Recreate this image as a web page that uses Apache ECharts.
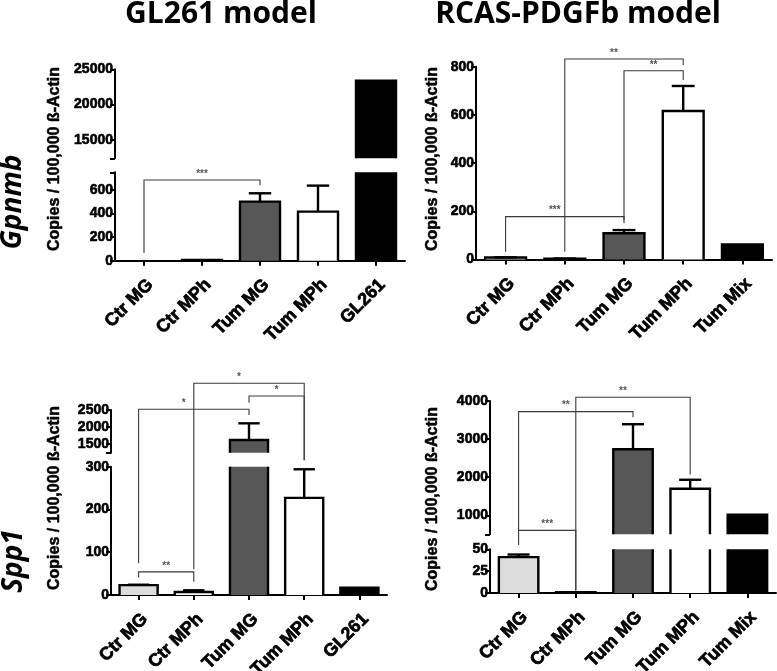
<!DOCTYPE html>
<html><head><meta charset="utf-8">
<script src="https://cdn.jsdelivr.net/npm/echarts@6/dist/echarts.min.js"></script>
<style>html,body{margin:0;padding:0;background:#fff}#c{width:777px;height:671px}</style>
</head><body><div id="c"></div>
<script>
// ---------- data ----------
var catsGL261 = ['Ctr MG', 'Ctr MPh', 'Tum MG', 'Tum MPh', 'GL261'];
var catsRCAS = ['Ctr MG', 'Ctr MPh', 'Tum MG', 'Tum MPh', 'Tum Mix'];

var gl261GpnmbValues = [0, 6, 501, 416, 23400];
var gl261GpnmbErrors = [0, 0, 71, 221, 0];
var rcasGpnmbValues = [8, 3, 109, 616, 62];
var rcasGpnmbErrors = [1, 1, 13, 104, 0];
var gl261Spp1Values = [23, 7, 1620, 227, 17];
var gl261Spp1Errors = [1, 4, 490, 67, 0];
var rcasSpp1Values = [41, 1, 2735, 1696, 1015];
var rcasSpp1Errors = [3, 0, 655, 236, 0];

var gl261GpnmbUpperTicks = [15000, 20000, 25000];
var gl261GpnmbLowerTicks = [0, 200, 400, 600];
var rcasGpnmbTicks = [0, 200, 400, 600, 800];
var gl261Spp1UpperTicks = [1500, 2000, 2500];
var gl261Spp1LowerTicks = [0, 100, 200, 300];
var rcasSpp1UpperTicks = [1000, 2000, 3000, 4000];
var rcasSpp1LowerTicks = [0, 25, 50];

// brackets: [fromCat, toCat, lineValue, lineSeg, leftEndValue, leftEndSeg, rightEndValue, rightEndSeg, label]
var gl261GpnmbBrackets = [[0, 2, 685, 'lower', 65, 'lower', 640, 'lower', '***']];
var rcasGpnmbBrackets = [
  [0, 2, 178, 'lower', 32, 'lower', 150, 'lower', '***'],
  [1, 3, 832, 'lower', 32, 'lower', 807, 'lower', '**'],
  [2, 3, 783, 'lower', 164, 'lower', 745, 'lower', '**']
];
var gl261Spp1Brackets = [
  [0, 1, 54, 'lower', 41, 'lower', 31, 'lower', '**'],
  [0, 2, 2520, 'upper', 74, 'lower', 2353, 'upper', '*'],
  [1, 3, 3285, 'upper', 60, 'lower', 315, 'lower', '*'],
  [2, 3, 2912, 'upper', 2715, 'upper', 315, 'lower', '*']
];
var rcasSpp1Brackets = [
  [0, 1, 604, 'upper', 55, 'lower', 3, 'lower', '***'],
  [0, 2, 3720, 'upper', 604, 'upper', 3573, 'upper', '**'],
  [1, 3, 4097, 'upper', 3, 'lower', 2070, 'upper', '**']
];

var barColors = ['#dcdcdc', '#ffffff', '#575757', '#ffffff', '#000000'];

// ---------- layout ----------
var segments = [
  {key: 'p1', part: 'upper', left: 115, top: 69.3, width: 290, height: 89, min: 12400, max: 25000, labels: gl261GpnmbUpperTicks, cats: catsGL261, values: gl261GpnmbValues, errors: gl261GpnmbErrors, showX: false},
  {key: 'p1', part: 'lower', left: 115, top: 172.3, width: 290, height: 88.4, min: 0, max: 750, labels: gl261GpnmbLowerTicks, cats: catsGL261, values: gl261GpnmbValues, errors: gl261GpnmbErrors, showX: true},
  {key: 'p2', part: 'lower', left: 476, top: 66.7, width: 296, height: 192.8, min: 0, max: 800, labels: rcasGpnmbTicks, cats: catsRCAS, values: rcasGpnmbValues, errors: rcasGpnmbErrors, showX: true},
  {key: 'p3', part: 'upper', left: 111, top: 410, width: 276, height: 42.7, min: 1250, max: 2500, labels: gl261Spp1UpperTicks, cats: catsGL261, values: gl261Spp1Values, errors: gl261Spp1Errors, showX: false},
  {key: 'p3', part: 'lower', left: 111, top: 466.7, width: 276, height: 128.3, min: 0, max: 300, labels: gl261Spp1LowerTicks, cats: catsGL261, values: gl261Spp1Values, errors: gl261Spp1Errors, showX: true},
  {key: 'p4', part: 'upper', left: 490, top: 401, width: 286, height: 133.3, min: 500, max: 4000, labels: rcasSpp1UpperTicks, cats: catsRCAS, values: rcasSpp1Values, errors: rcasSpp1Errors, showX: false},
  {key: 'p4', part: 'lower', left: 490, top: 549.3, width: 286, height: 43.7, min: 0, max: 50, labels: rcasSpp1LowerTicks, cats: catsRCAS, values: rcasSpp1Values, errors: rcasSpp1Errors, showX: true}
];
var panelBrackets = {p1: gl261GpnmbBrackets, p2: rcasGpnmbBrackets, p3: gl261Spp1Brackets, p4: rcasSpp1Brackets};

var LW = 2.4;
var FONT = '"Liberation Sans"';
function makeRenderer(seg) {
  return function (params, api) {
    var i = api.value(0), v = api.value(1), e = api.value(2);
    var lo = seg.min, hi = seg.max;
    var band = api.size([1, 0])[0];
    var bw = band * 0.69;
    var cx = api.coord([i, lo])[0];
    var x0 = cx - bw / 2, x1 = cx + bw / 2;
    var children = [];
    if (v > lo) {
      var yB = api.coord([i, Math.max(lo, 0)])[1];
      var yT = api.coord([i, Math.min(v, hi)])[1];
      children.push({type: 'rect', shape: {x: x0, y: yT, width: bw, height: yB - yT}, style: {fill: barColors[i]}});
      if (v <= hi) {
        children.push({type: 'polyline', shape: {points: [[x0, yB], [x0, yT], [x1, yT], [x1, yB]]}, style: {fill: null, stroke: '#000', lineWidth: LW, lineJoin: 'miter'}});
      } else {
        children.push({type: 'line', shape: {x1: x0, y1: yB, x2: x0, y2: yT}, style: {stroke: '#000', lineWidth: LW}});
        children.push({type: 'line', shape: {x1: x1, y1: yB, x2: x1, y2: yT}, style: {stroke: '#000', lineWidth: LW}});
      }
    }
    if (e > 0) {
      var top = v + e;
      var a = Math.max(v, lo), b = Math.min(top, hi);
      if (b > a) {
        var ya = api.coord([i, a])[1], yb = api.coord([i, b])[1];
        children.push({type: 'line', shape: {x1: cx, y1: ya, x2: cx, y2: yb}, style: {stroke: '#000', lineWidth: LW}});
        if (top <= hi) {
          children.push({type: 'line', shape: {x1: cx - bw * 0.28, y1: yb, x2: cx + bw * 0.28, y2: yb}, style: {stroke: '#000', lineWidth: LW}});
        }
      }
    }
    return {type: 'group', children: children};
  };
}

var grids = [], xAxes = [], yAxes = [], series = [];
segments.forEach(function (s, k) {
  grids.push({left: s.left, top: s.top, width: s.width, height: s.height, containLabel: false, outerBoundsMode: 'none'});
  xAxes.push({
    type: 'category', gridIndex: k, data: s.cats, show: s.showX,
    axisLine: {show: true, lineStyle: {color: '#000', width: 2}},
    axisTick: {show: true, alignWithLabel: true, length: 5, lineStyle: {color: '#000', width: 2}},
    axisLabel: {rotate: 45, interval: 0, margin: 15, align: 'right', verticalAlign: 'top',
      color: '#000', fontSize: 18, fontWeight: 'bold', fontFamily: FONT,
      textBorderColor: '#000', textBorderWidth: 0.7}
  });
  var tickVals = s.labels.slice();
  if (tickVals.indexOf(s.min) < 0) tickVals.unshift(s.min);
  if (tickVals.indexOf(s.max) < 0) tickVals.push(s.max);
  yAxes.push({
    type: 'value', gridIndex: k, min: s.min, max: s.max,
    splitLine: {show: false},
    axisLine: {show: true, lineStyle: {color: '#000', width: 2}},
    axisTick: {show: true, length: 5, customValues: tickVals, lineStyle: {color: '#000', width: 2}},
    axisLabel: {customValues: s.labels, margin: 2, color: '#000', fontSize: 14, fontWeight: 'bold', fontFamily: FONT,
      textBorderColor: '#000', textBorderWidth: 0.6,
      formatter: function (v) { return String(v); }}
  });
  series.push({
    type: 'custom', xAxisIndex: k, yAxisIndex: k, renderItem: makeRenderer(s),
    data: s.values.map(function (v, i) { return [i, v, s.errors[i]]; }),
    encode: {x: 0, y: 1}, silent: true
  });
});

var chart = echarts.init(document.getElementById('c'), null, {renderer: 'canvas'});
chart.setOption({
  animation: false, backgroundColor: '#fff',
  grid: grids, xAxis: xAxes, yAxis: yAxes, series: series
});

// ---------- brackets and texts ----------
function segIndex(key, part) {
  for (var k = 0; k < segments.length; k++) {
    if (segments[k].key === key && (segments[k].part === part || key === 'p2')) return k;
  }
  return 0;
}
function px(key, part, cat, val) {
  return chart.convertToPixel({gridIndex: segIndex(key, part)}, [cat, val]);
}
var graphics = [];
Object.keys(panelBrackets).forEach(function (key) {
  var list = panelBrackets[key];
  var verticals = [];
  list.forEach(function (b) {
    verticals.push(px(key, b[3], b[0], b[2])[0]);
    verticals.push(px(key, b[3], b[1], b[2])[0]);
  });
  list.forEach(function (b) {
    var pl = px(key, b[3], b[0], b[2]);
    var pr = px(key, b[3], b[1], b[2]);
    var le = px(key, b[5], b[0], b[4]);
    var re = px(key, b[7], b[1], b[6]);
    graphics.push({type: 'polyline', z: 10, shape: {points: [[pl[0], le[1]], [pl[0], pl[1]], [pr[0], pl[1]], [pr[0], re[1]]]},
      style: {fill: null, stroke: '#3a3a3a', lineWidth: 1.1}});
    var mid = (pl[0] + pr[0]) / 2;
    verticals.forEach(function (vx) {
      if (Math.abs(vx - mid) < 7 && Math.abs(vx - pl[0]) > 1 && Math.abs(vx - pr[0]) > 1) mid = vx - 10;
    });
    graphics.push({type: 'text', z: 10, x: mid, y: pl[1] - 1,
      style: {text: b[8], font: 'bold 10px "Liberation Sans"', fill: '#555', align: 'center', verticalAlign: 'bottom', textAlign: 'center', textVerticalAlign: 'bottom'}});
  });
});
function txt(t, x, y, font, rot, thick) {
  graphics.push({type: 'text', x: x, y: y, rotation: rot || 0,
    style: {text: t, font: font, fill: '#000', stroke: thick ? '#000' : null, lineWidth: thick || 0,
      align: 'center', verticalAlign: 'middle', textAlign: 'center', textVerticalAlign: 'middle'}});
}
var yTitle = 'Copies / 100,000 ß-Actin';
var yFont = 'bold 16px "Liberation Sans"';
txt('GL261 model', 221, 14, 'bold 30px "Open Sans"');
txt('RCAS-PDGFb model', 578, 14, 'bold 30px "Open Sans"');
txt('Gpnmb', 13, 202, 'italic bold 28px "Open Sans"', Math.PI / 2);
txt('Spp1', 14, 561, 'italic bold 28px "Open Sans"', Math.PI / 2);
txt(yTitle, 55, 159, yFont, Math.PI / 2, 0.5);
txt(yTitle, 433, 159, yFont, Math.PI / 2, 0.5);
txt(yTitle, 55, 498, yFont, Math.PI / 2, 0.5);
txt(yTitle, 433, 499, yFont, Math.PI / 2, 0.5);
chart.setOption({graphic: graphics});
</script>
</body></html>
